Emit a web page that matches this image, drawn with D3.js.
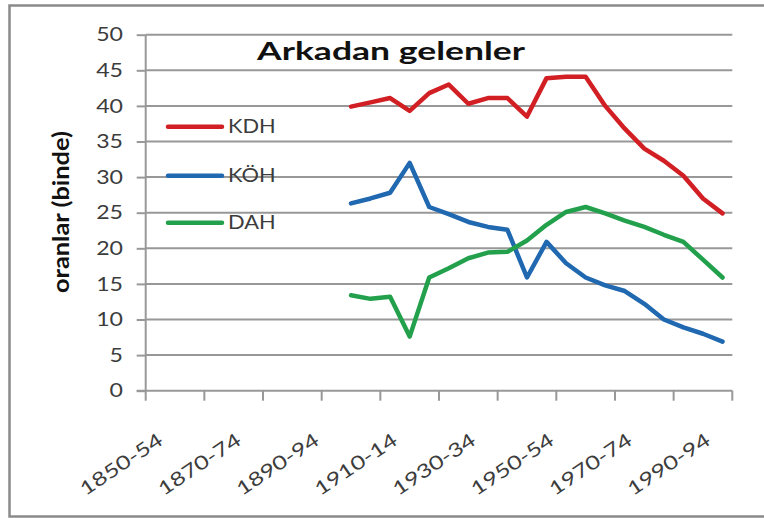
<!DOCTYPE html>
<html>
<head>
<meta charset="utf-8">
<script src="https://cdn.jsdelivr.net/npm/d3@7"></script>
<style>
  body { margin: 0; background: #fff; }
  svg { display: block; font-family: Lato, "Open Sans", sans-serif; }
</style>
</head>
<body>
<svg id="chart" width="764" height="518"></svg>
<script>
// periods on the x axis (5-year groups)
var categories = ["1850-54","1855-59","1860-64","1865-69","1870-74","1875-79",
  "1880-84","1885-89","1890-94","1895-99","1900-04","1905-09","1910-14","1915-19",
  "1920-24","1925-29","1930-34","1935-39","1940-44","1945-49","1950-54","1955-59",
  "1960-64","1965-69","1970-74","1975-79","1980-84","1985-89","1990-94","1995-99"];

var seriesNames = ["KDH", "KÖH", "DAH"];
var seriesColors = ["#d21f24", "#2068b0", "#22a04c"];

// values per period, null = no data
var kdh = [null,null,null,null,null,null,null,null,null,null,
  39.9, 40.5, 41.1, 39.3, 41.8, 43.0, 40.3, 41.1, 41.1, 38.5,
  43.9, 44.1, 44.1, 40.0, 36.8, 34.0, 32.3, 30.2, 27.0, 24.9];
var koh = [null,null,null,null,null,null,null,null,null,null,
  26.3, 27.0, 27.8, 32.0, 25.8, 24.8, 23.7, 23.0, 22.6, 15.9,
  20.9, 17.9, 15.9, 14.8, 14.0, 12.2, 10.0, 8.9, 8.0, 6.9];
var dah = [null,null,null,null,null,null,null,null,null,null,
  13.4, 12.9, 13.2, 7.6, 15.9, 17.2, 18.6, 19.4, 19.5, 21.1,
  23.3, 25.1, 25.8, 24.9, 23.9, 23.0, 21.9, 20.9, 18.4, 15.9];

var yTicks = [0, 5, 10, 15, 20, 25, 30, 35, 40, 45, 50];
var xLabelEvery = 4;   // a label on every 4th period
var xTickEvery = 3;    // a tick mark every 3rd period

var title = "Arkadan gelenler";
var yTitle = "oranlar (binde)";

var svg = d3.select("#chart");

var x = d3.scaleBand()
  .domain(categories)
  .range([145.7, 732.3]);
var y = d3.scaleLinear()
  .domain([0, 50])
  .range([390.7, 34.7]);

var gridColor = "#989898";

// outer frame
svg.append("rect")
  .attr("x", 9.5).attr("y", 5.5)
  .attr("width", 780).attr("height", 511)
  .attr("fill", "none")
  .attr("stroke", "#8a8a8a")
  .attr("stroke-width", 2.5);

// horizontal gridlines
svg.append("g")
  .selectAll("line")
  .data(yTicks.filter(function(d) { return d > 0; }))
  .enter().append("line")
  .attr("x1", x.range()[0]).attr("x2", x.range()[1])
  .attr("y1", function(d) { return y(d); })
  .attr("y2", function(d) { return y(d); })
  .attr("stroke", gridColor)
  .attr("stroke-width", 2);

// y axis
var yAxis = svg.append("g")
  .attr("transform", "translate(" + x.range()[0] + ",0)")
  .call(d3.axisLeft(y).tickValues(yTicks).tickSize(9).tickPadding(0).tickFormat(""));
yAxis.selectAll("path, line").attr("stroke", gridColor).attr("stroke-width", 2);
yAxis.select(".domain").attr("d", "M0," + y(50) + "V" + y(0));

svg.append("g")
  .selectAll("text")
  .data(yTicks)
  .enter().append("text")
  .attr("transform", function(d) { return "translate(123," + y(d) + ") scale(1.25,1)"; })
  .attr("text-anchor", "end")
  .attr("dy", "0.36em")
  .attr("font-size", "18.5px")
  .attr("fill", "#3c3c3c")
  .text(function(d) { return d; });

// x axis with tick marks between every 3rd period
var tickPos = d3.range(0, categories.length + 1, xTickEvery).map(function(i) {
  return x.range()[0] + i * x.bandwidth();
});
var xAxis = svg.append("g");
xAxis.append("line")
  .attr("x1", x.range()[0] - 9).attr("x2", x.range()[1])
  .attr("y1", y(0)).attr("y2", y(0))
  .attr("stroke", gridColor).attr("stroke-width", 2);
xAxis.selectAll("line.tick")
  .data(tickPos)
  .enter().append("line")
  .attr("class", "tick")
  .attr("x1", function(d) { return d; }).attr("x2", function(d) { return d; })
  .attr("y1", y(0)).attr("y2", y(0) + 10)
  .attr("stroke", gridColor).attr("stroke-width", 2);

var xLabels = svg.append("g")
  .selectAll("g")
  .data(categories.filter(function(d, i) { return i % xLabelEvery === 0; }))
  .enter().append("g")
  .attr("transform", function(d) {
    return "translate(" + (x(d) + x.bandwidth() / 2 + 5) + ",437.5) rotate(-34) scale(1.3,1)";
  });
xLabels.append("text")
  .attr("text-anchor", "end")
  .attr("dy", "0.36em")
  .attr("font-size", "19px")
  .attr("fill", "#3c3c3c")
  .text(function(d) { return d; });

// lines
var line = d3.line()
  .defined(function(d) { return d !== null; })
  .x(function(d, i) { return x(categories[i]) + x.bandwidth() / 2; })
  .y(function(d) { return y(d); });

var allSeries = [kdh, koh, dah];
svg.append("g")
  .selectAll("path")
  .data(allSeries)
  .enter().append("path")
  .attr("d", line)
  .attr("fill", "none")
  .attr("stroke", function(d, i) { return seriesColors[i]; })
  .attr("stroke-width", 4.5)
  .attr("stroke-linejoin", "round")
  .attr("stroke-linecap", "round");

// title
svg.append("text")
  .attr("x", 257).attr("y", 60)
  .attr("font-size", "24px")
  .attr("font-weight", "bold")
  .attr("textLength", 268)
  .attr("lengthAdjust", "spacingAndGlyphs")
  .attr("fill", "#111")
  .text(title);

// y axis title
svg.append("text")
  .attr("transform", "translate(69,212) rotate(-90)")
  .attr("text-anchor", "middle")
  .attr("font-size", "22px")
  .attr("font-weight", "bold")
  .attr("textLength", 162)
  .attr("lengthAdjust", "spacingAndGlyphs")
  .attr("fill", "#111")
  .text(yTitle);

// legend
var legendY = [126.7, 175.7, 222.7];
var legend = svg.append("g")
  .selectAll("g")
  .data(seriesNames)
  .enter().append("g")
  .attr("transform", function(d, i) { return "translate(168," + legendY[i] + ")"; });
legend.append("line")
  .attr("x1", 0).attr("x2", 54)
  .attr("stroke", function(d, i) { return seriesColors[i]; })
  .attr("stroke-width", 4.5)
  .attr("stroke-linecap", "round");
legend.append("text")
  .attr("transform", "translate(60,0) scale(1.18,1)")
  .attr("dy", "0.36em")
  .attr("font-size", "18.5px")
  .attr("fill", "#3c3c3c")
  .text(function(d) { return d; });
</script>
</body>
</html>
